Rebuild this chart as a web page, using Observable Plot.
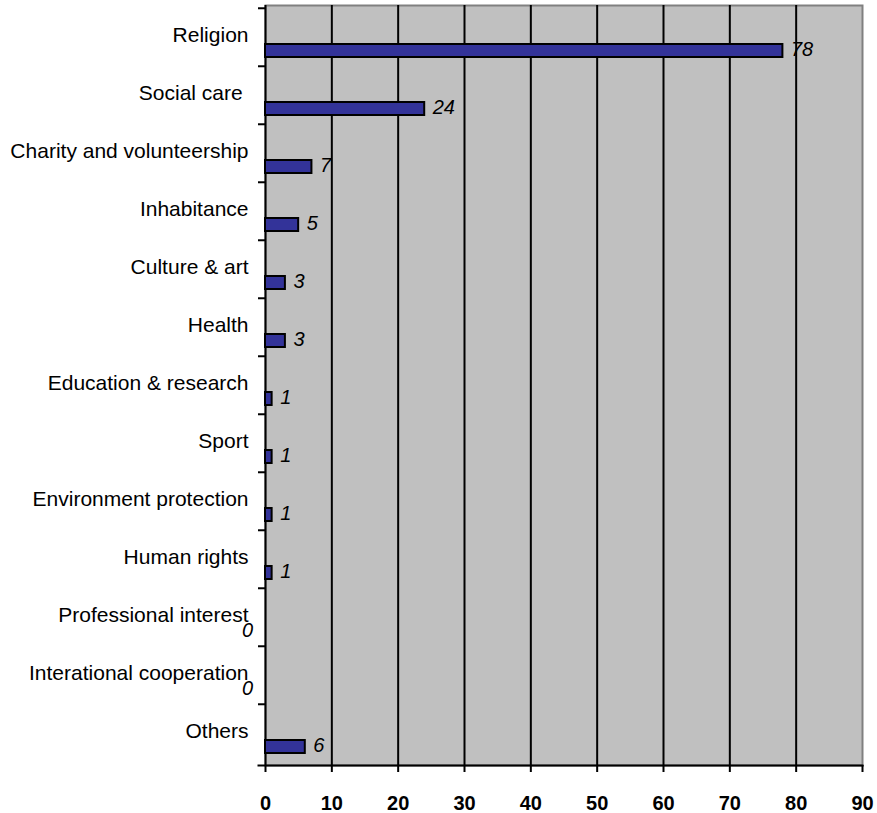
<!DOCTYPE html>
<html>
<head>
<meta charset="utf-8">
<script src="https://cdn.jsdelivr.net/npm/d3@7"></script>
<script src="https://cdn.jsdelivr.net/npm/@observablehq/plot@0.6"></script>
<style>
  body { margin: 0; background: #fff; }
  #chart svg { display: block; font-family: "Liberation Sans", Arial, sans-serif; }
</style>
</head>
<body>
<div id="chart"></div>
<script>
// Number of organisations by field of activity
const categories = [
  "Religion",
  "Social care\u00a0",
  "Charity and volunteership",
  "Inhabitance",
  "Culture & art",
  "Health",
  "Education & research",
  "Sport",
  "Environment protection",
  "Human rights",
  "Professional interest",
  "Interational cooperation",
  "Others"
];
const counts = [78, 24, 7, 5, 3, 3, 1, 1, 1, 1, 0, 0, 6];
const xTicks = [0, 10, 20, 30, 40, 50, 60, 70, 80, 90];
const gridValues = [10, 20, 30, 40, 50, 60, 70, 80];

const rows = categories.map((c, i) => ({category: c, value: counts[i]}));

const W = 877, H = 813;
const mTop = 5, mBottom = 48, mLeft = 265, mRight = 15;
const band = (H - mTop - mBottom) / categories.length;

const chart = Plot.plot({
  width: W,
  height: H,
  marginTop: mTop,
  marginBottom: mBottom,
  marginLeft: mLeft,
  marginRight: mRight,
  style: {fontFamily: "'Liberation Sans', Arial, sans-serif", background: "#fff"},
  x: {domain: [0, 90], axis: null, label: null},
  y: {domain: categories, padding: 0, axis: null, label: null},
  marks: [
    // plot area
    Plot.frame({fill: "#c0c0c0", stroke: "#808080", strokeWidth: 2}),
    Plot.ruleX(gridValues, {stroke: "#000", strokeWidth: 2}),
    // axis lines
    Plot.ruleX([0], {stroke: "#000", strokeWidth: 2}),
    Plot.frame({anchor: "bottom", stroke: "#000", strokeWidth: 2, insetLeft: -7}),
    // category separator ticks
    Plot.axisY({tickSize: 7, tickFormat: () => "", label: null, stroke: "#000", strokeWidth: 2, dy: -band / 2}),
    // category labels
    Plot.axisY({tickSize: 0, tickPadding: 17, label: null, fontSize: 21, dy: -2, fill: "#000"}),
    // x axis
    Plot.axisX({ticks: xTicks, tickSize: 7, tickPadding: 23, label: null, strokeWidth: 2, fontSize: 20, fontWeight: "bold", fill: "#000", tickFormat: d3.format("d")}),
    // bars
    Plot.barX(rows.filter(d => d.value > 0), {
      x: "value", y: "category",
      fill: "#333399", stroke: "#000", strokeWidth: 2,
      insetTop: 36, insetBottom: 9
    }),
    // value labels
    Plot.text(rows.filter(d => d.value > 0), {
      x: "value", y: "category", text: d => String(d.value),
      dx: 8, dy: 12, textAnchor: "start",
      fontSize: 20, fontStyle: "italic", fill: "#000"
    }),
    Plot.text(rows.filter(d => d.value === 0), {
      x: "value", y: "category", text: d => String(d.value),
      dx: -18, dy: 13, textAnchor: "middle",
      fontSize: 20, fontStyle: "italic", fill: "#000"
    })
  ]
});

document.getElementById("chart").appendChild(chart);
</script>
</body>
</html>
